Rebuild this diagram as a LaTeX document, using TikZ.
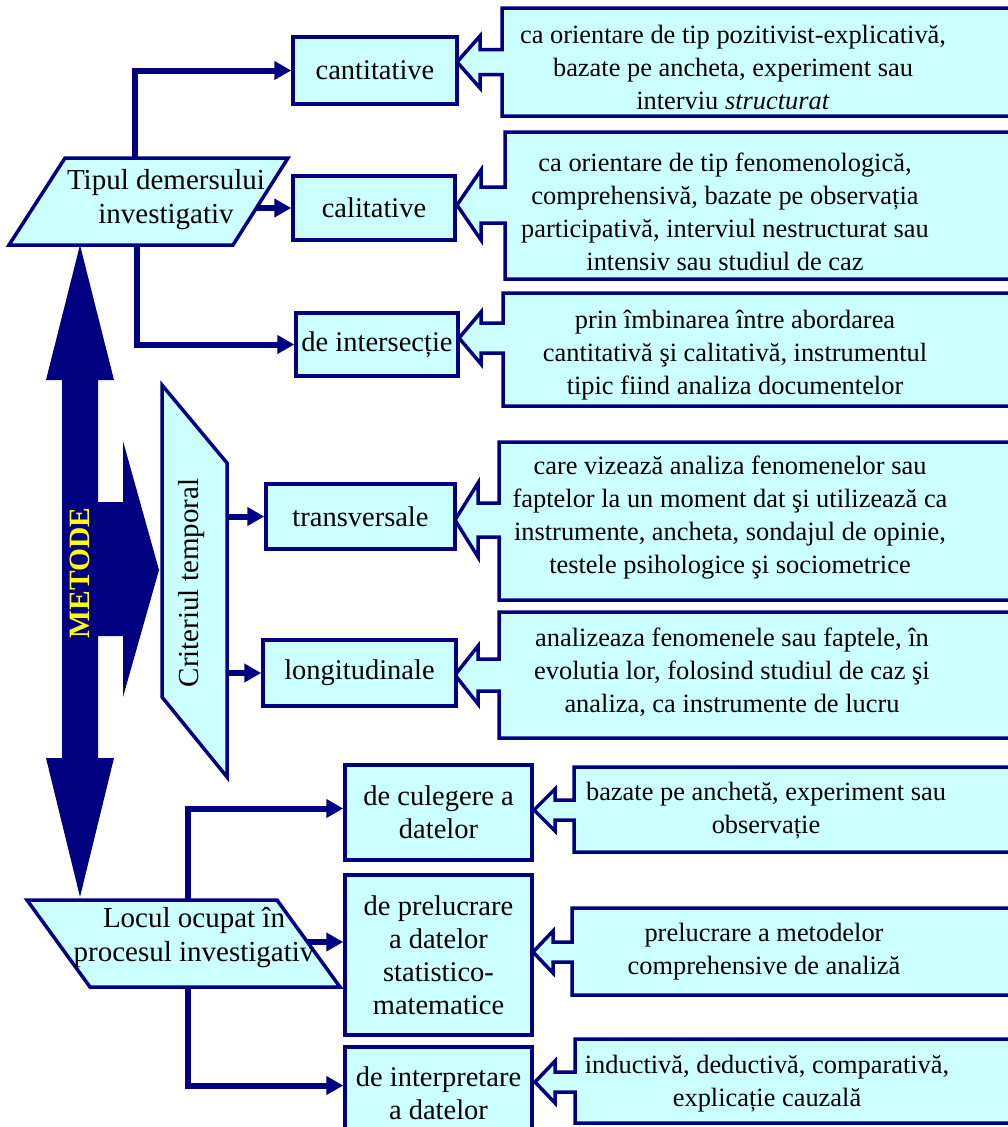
\documentclass[tikz,border=0pt]{standalone}
\usepackage{fontspec}
\setmainfont{Liberation Serif}
\usetikzlibrary{arrows.meta}
\definecolor{navy}{RGB}{0,0,128}
\definecolor{paleCyan}{RGB}{204,255,255}
\definecolor{titleYellow}{RGB}{255,255,0}
% callout box open to the right, with a hollow arrow pointing left
% #1 left x, #2 top, #3 bottom, #4/#5 tip, #6 head base x, #7 head half height, #8 shaft half height
\newcommand\calloutshape[8]{%
  \filldraw[callout] (#1,#2) -- (1025,#2) -- (1025,#3) -- (#1,#3) -- (#1,{#5+#8})
    -- (#6,{#5+#8}) -- (#6,{#5+#7}) -- (#4,#5) -- (#6,{#5-#7}) -- (#6,{#5-#8})
    -- (#1,{#5-#8}) -- cycle;}
\begin{document}
\begin{tikzpicture}[x=1pt,y=-1pt,
  box/.style={draw=navy, fill=paleCyan, line width=3.5pt, align=center,
    font=\fontsize{28.5}{33}\selectfont, inner sep=0pt},
  callout/.style={draw=navy, fill=paleCyan, line width=3.5pt, line join=miter},
  frame/.style={draw=navy, fill=paleCyan, line width=3.5pt, line join=miter},
  note/.style={align=center, font=\fontsize{26.4}{33}\selectfont, inner sep=0pt},
  label/.style={align=center, font=\fontsize{29}{34}\selectfont, inner sep=0pt},
  conn/.style={draw=navy, line width=6pt, -{Triangle[length=17pt,width=18pt]}}]
\path[clip] (0,0) rectangle (1008,1127);
\fill[white] (0,0) rectangle (1008,1127);

% big double arrow with a side arrow
\fill[navy] (80,245) -- (114,380) -- (98,380) -- (98,502) -- (123,502) -- (123,441)
  -- (159,570) -- (123,697) -- (123,636) -- (98,636) -- (98,758) -- (114,758)
  -- (80,897) -- (46,758) -- (62,758) -- (62,380) -- (46,380) -- cycle;
\node[rotate=90, text=titleYellow, font=\fontsize{29.5}{30}\selectfont\bfseries] (metode) at (80,573) {METODE};

% first group
\draw[frame] (65,158) -- (288,158) -- (233,245) -- (9,245) -- cycle;
\node[label] (tipul) at (166,200) {Tipul demersului\\investigativ};
\coordinate (tipTop) at (135,158);
\coordinate (tipRight) at (256,208);
\coordinate (tipBot) at (137,245);

\calloutshape{502}{8}{116}{457}{62}{480}{26}{12.5}
\calloutshape{505}{132}{279}{457}{205}{481}{35}{18}
\calloutshape{503}{293}{406}{459}{338}{481}{26}{15}

\node[box, minimum width=164, minimum height=67] (cant) at (375,70.5) {cantitative};
\node[box, minimum width=162, minimum height=64] (cali) at (374,208) {calitative};
\node[box, minimum width=162, minimum height=63] (inter) at (377,344.5) {de intersecție};

\node[note] (n1) at (733,67) {ca orientare de tip pozitivist-explicativă,\\bazate pe ancheta, experiment sau\\interviu \textit{structurat}};
\node[note] (n2) at (725,212) {ca orientare de tip fenomenologică,\\comprehensivă, bazate pe observația\\participativă, interviul nestructurat sau\\intensiv sau studiul de caz};
\node[note] (n3) at (735,355) {prin îmbinarea între abordarea\\cantitativă şi calitativă, instrumentul\\tipic fiind analiza documentelor};

\draw[conn] (tipTop) |- (cant.west);
\draw[conn] (tipRight) -- (cali.west);
\draw[conn] (tipBot) |- (inter.west);

% second group
\draw[frame] (162,385) -- (227,463) -- (227,777) -- (162,697) -- cycle;
\node[label, rotate=90] (crit) at (192,583) {Criteriul temporal};
\coordinate (critA) at (227,516.5);
\coordinate (critB) at (227,673);

\calloutshape{499}{442}{600}{455}{520}{478}{37}{17}
\calloutshape{499}{612}{738}{455}{675}{478}{29}{16}

\node[box, minimum width=189, minimum height=65] (trans) at (360.5,516.5) {transversale};
\node[box, minimum width=193, minimum height=66] (longi) at (359.5,673) {longitudinale};

\node[note] (n4) at (730,518) {care vizează analiza fenomenelor sau\\faptelor la un moment dat şi utilizează ca\\instrumente, ancheta, sondajul de opinie,\\testele psihologice şi sociometrice};
\node[note] (n5) at (732,672) {analizeaza fenomenele sau faptele, în\\evolutia lor, folosind studiul de caz şi\\analiza, ca instrumente de lucru};

\draw[conn] (critA) -- (trans.west);
\draw[conn] (critB) -- (longi.west);

% third group
\draw[frame] (27,900) -- (277,900) -- (340,987) -- (90,987) -- cycle;
\node[label] (locul) at (194,938) {Locul ocupat în\\procesul investigativ};
\coordinate (locTop) at (188,900);
\coordinate (locRight) at (307,942);
\coordinate (locBot) at (188,987);

\calloutshape{574}{767}{852}{534}{810}{555}{21}{10}
\calloutshape{572}{908}{995}{533}{952}{553}{21}{10}
\calloutshape{575}{1039}{1123}{535}{1082}{555}{21}{10}

\node[box, minimum width=187, minimum height=95] (cul) at (438.5,812.5) {de culegere a\\datelor};
\node[box, minimum width=187, minimum height=160] (prel) at (438.5,955) {de prelucrare\\a datelor\\statistico-\\matematice};
\node[box, minimum width=187, minimum height=93] (interp) at (438.5,1093.5) {de interpretare\\a datelor};

\node[note] (n6) at (766,811) {bazate pe anchetă, experiment sau\\observație};
\node[note] (n7) at (764,952) {prelucrare a metodelor\\comprehensive de analiză};
\node[note] (n8) at (767,1084) {inductivă, deductivă, comparativă,\\explicație cauzală};

\draw[conn] (locTop) |- ([yshift=4pt]cul.west);
\draw[conn] (locRight) -- (locRight -| prel.west);
\draw[conn] (locBot) |- ([yshift=8pt]interp.west);
\end{tikzpicture}
\end{document}
